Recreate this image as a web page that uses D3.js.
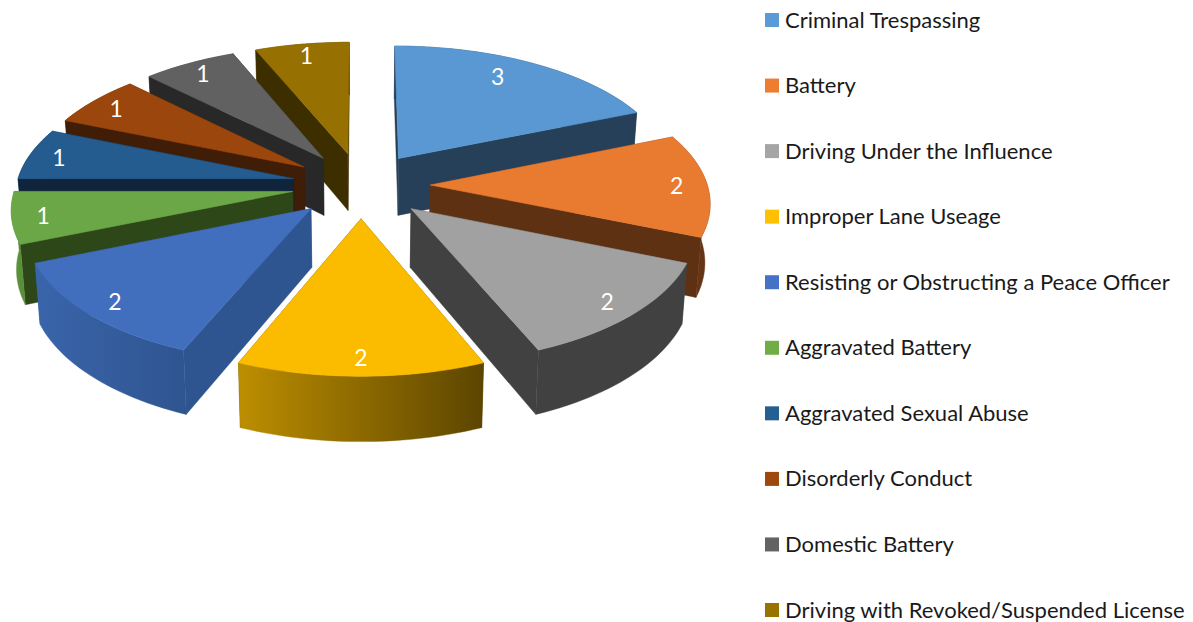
<!DOCTYPE html>
<html><head><meta charset="utf-8">
<script src="https://cdn.jsdelivr.net/npm/d3@7/dist/d3.min.js"></script>
<style>html,body{margin:0;padding:0;background:#fff;overflow:hidden}svg{display:block}</style>
</head><body><svg id="c" width="1193" height="622"></svg>
<script>
const categories=["Criminal Trespassing","Battery","Driving Under the Influence","Improper Lane Useage","Resisting or Obstructing a Peace Officer","Aggravated Battery","Aggravated Sexual Abuse","Disorderly Conduct","Domestic Battery","Driving with Revoked/Suspended License"];
const counts=[3,2,2,2,2,1,1,1,1,1];
const legendColors=["#5B9BD5","#ED7D31","#A5A5A5","#FFC000","#4472C4","#70AD47","#255E91","#9E480E","#636363","#997300"];
const topColors=["#5A98D3","#E97B30","#A1A1A1","#FBBC00","#416EBD","#6BA746","#255C8F","#9A460D","#616161","#967000"];
const cutColors=["#264059","#5F3113","#414141","#5F4700","#2F5590","#2E4719","#10243B","#3F1D06","#282828","#3D2E00"];
const rimStart=["#2E5070","#7A3F18","#414141","#BD8E00","#3A65AB","#5F9640","#1E4F7C","#7A380B","#4A4A4A","#6F5400"];
const rimEnd=["#264059","#5F3113","#414141","#5C4500","#2F5590","#5A8F3A","#10243B","#3F1D06","#282828","#3D2E00"];

const svg=d3.select("#c"),defs=svg.append("defs");
const cx=361,cy=185,R=277,B=131,k=0.115,explode=0.25;
const scaleAt=Y=>1/(1-k*Y);
const topPt=(X,Y)=>{const s=scaleAt(Y);return [cx+X*R*s,cy+Y*B*s];};
const botPt=(X,Y)=>{const s=scaleAt(Y);return [cx+X*R*s*0.985,cy+Y*B*s+14+44*s];};
const line=d3.line().x(d=>d[0]).y(d=>d[1]);
const slices=d3.pie().sort(null).value(d=>d)(counts).map((d,i)=>{
  const mid=(d.startAngle+d.endAngle)/2;
  const ox=explode*Math.sin(mid),oy=-explode*Math.cos(mid);
  const rim=(r,a)=>[ox+r*Math.sin(a),oy-r*Math.cos(a)];
  const n=Math.ceil((d.endAngle-d.startAngle)/0.03);
  const arc=d3.range(n+1).map(j=>rim(1,d.startAngle+(d.endAngle-d.startAngle)*j/n));
  return {i,mid,ox,oy,rim,arc,d};
});
const order=slices.slice().sort((a,b)=>a.oy-b.oy);
const g=svg.append("g").style("filter","blur(0.4px)");
order.forEach(s=>{
  const {i,arc,ox,oy}=s;
  const apex=[ox,oy];
  const first=arc[0],last=arc[arc.length-1];
  const topArc=arc.map(p=>topPt(p[0],p[1])),botArc=arc.map(p=>botPt(p[0],p[1]));
  const xs=topArc.map(p=>p[0]);
  const gid="rim"+i;
  const lg=defs.append("linearGradient").attr("id",gid).attr("gradientUnits","userSpaceOnUse")
    .attr("x1",d3.min(xs)).attr("x2",d3.max(xs)).attr("y1",0).attr("y2",0);
  lg.append("stop").attr("offset",0).attr("stop-color",rimStart[i]);
  lg.append("stop").attr("offset",1).attr("stop-color",rimEnd[i]);
  const walls=[
   {y:(oy+first[1])/2,pts:[topPt(...apex),topPt(...first),botPt(...first),botPt(...apex)],fill:cutColors[i]},
   {y:(oy+last[1])/2,pts:[topPt(...apex),topPt(...last),botPt(...last),botPt(...apex)],fill:cutColors[i]},
   {y:d3.mean(arc,p=>p[1]),pts:topArc.concat(botArc.slice().reverse()),fill:`url(#${gid})`}
  ].sort((a,b)=>a.y-b.y);
  const sg=g.append("g").attr("class","slice");
  walls.forEach(w=>sg.append("path").attr("d",line(w.pts)+"Z").attr("fill",w.fill).attr("stroke",w.fill).attr("stroke-width",0.4));
  sg.append("path").attr("d",line([topPt(...apex)].concat(topArc))+"Z").attr("fill",topColors[i]).attr("stroke",topColors[i]).attr("stroke-width",0.6);
});
// data labels
slices.forEach(s=>{
  const big=counts[s.i]>=3;
  const r=big?0.82:0.89;
  const a=s.d.startAngle+(s.d.endAngle-s.d.startAngle)*(big?0.44:0.5);
  const p=s.rim(r,a),q=topPt(p[0],p[1]);
  svg.append("text").attr("x",q[0]).attr("y",q[1]).attr("text-anchor","middle").attr("dominant-baseline","central")
    .attr("fill","#fff").attr("font-family","Lato, 'Open Sans', sans-serif").attr("font-size",23).text(counts[s.i]);
});
// legend
const rows=d3.scalePoint().domain(categories).range([20,610]);
const lg=svg.append("g");
categories.forEach((c,i)=>{
  lg.append("rect").attr("x",765).attr("y",rows(c)-7).attr("width",14).attr("height",14).attr("fill",legendColors[i]);
  lg.append("text").attr("x",785).attr("y",rows(c)-1).attr("dominant-baseline","central").attr("fill","#1a1a1a")
    .attr("font-family","Lato, 'Open Sans', sans-serif").attr("font-size",22).text(c);
});
</script></body></html>
